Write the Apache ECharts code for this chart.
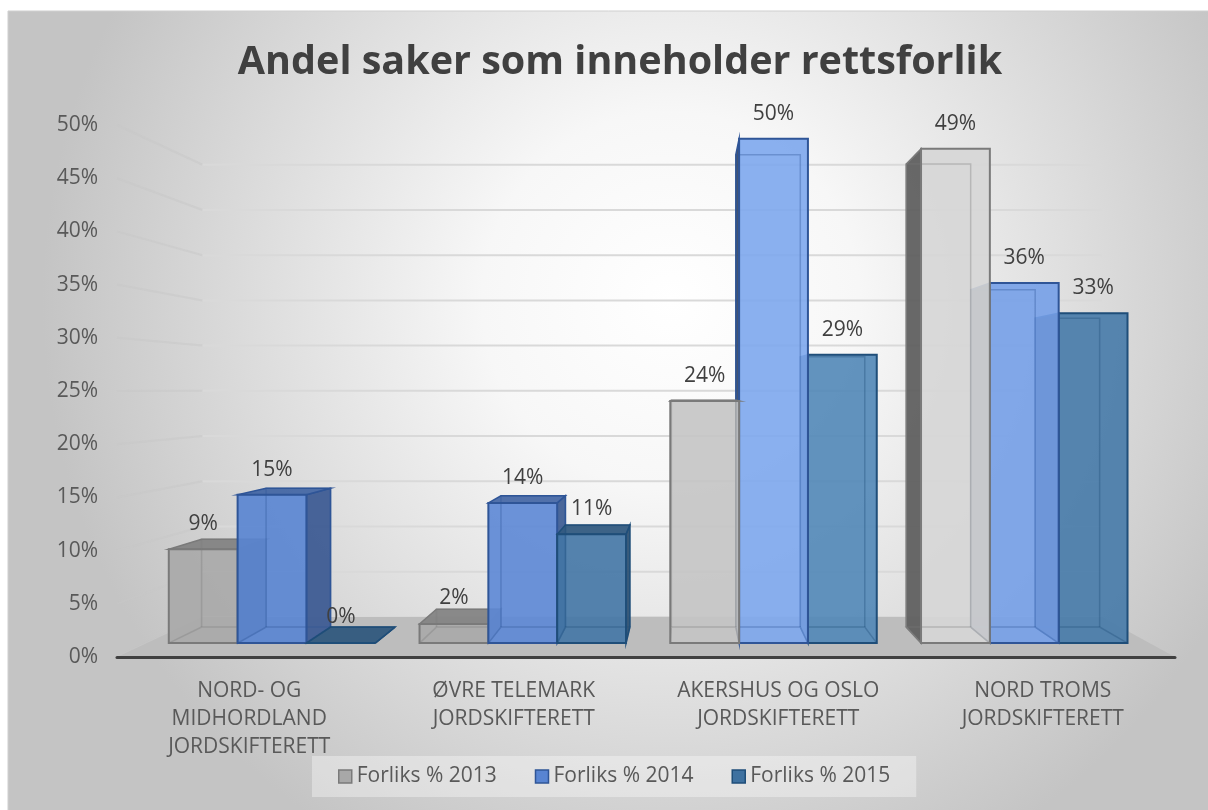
<!DOCTYPE html>
<html>
<head>
<meta charset="utf-8">
<script src="https://cdn.jsdelivr.net/npm/echarts@6/dist/echarts.min.js"></script>
<style>html,body{margin:0;padding:0;background:#fff;}</style>
</head>
<body>
<div id="main" style="width:1208px;height:810px;"></div>
<script type="text/javascript">
// data
var categories = ['NORD- OG\nMIDHORDLAND\nJORDSKIFTERETT', 'ØVRE TELEMARK\nJORDSKIFTERETT', 'AKERSHUS OG OSLO\nJORDSKIFTERETT', 'NORD TROMS\nJORDSKIFTERETT'];
var seriesNames = ['Forliks % 2013', 'Forliks % 2014', 'Forliks % 2015'];
var forlik2013 = [0.093, 0.019, 0.24, 0.49];
var forlik2014 = [0.147, 0.139, 0.50, 0.357];
var forlik2015 = [0, 0.108, 0.286, 0.327];
var yTicks = [0, 0.05, 0.10, 0.15, 0.20, 0.25, 0.30, 0.35, 0.40, 0.45, 0.50];

// look
var faceRGB = [[168, 168, 168], [88, 132, 210], [62, 113, 160]];
var lightRGB = [[235, 235, 235], [150, 190, 255], [95, 150, 200]];
var lightAmp = [0.78, 0.75, 0.6];
var outline = ['#7a7a7a', '#2f5597', '#1f4e79'];
var FONT = '"Open Sans", "DejaVu Sans", sans-serif';

// fake 3d: vanishing point (share of grid), depth scales
var VP_X = 0.539, VP_Y = 0.498;
var S_FRONT = 0.948, S_BACK = 0.888, S_WALL = 0.85;
var BAR_RATIO = 0.2745;

function mix(c, t, a) {
    return [0, 1, 2].map(function (i) { return Math.round(c[i] + (t[i] - c[i]) * a); });
}
function rgb(c, op) {
    return 'rgba(' + c[0] + ',' + c[1] + ',' + c[2] + ',' + (op == null ? 1 : op) + ')';
}
function vpOf(rect) {
    return [rect.x + rect.width * VP_X, rect.y + rect.height * VP_Y];
}
function proj(vp, x, y, s) {
    return [vp[0] + (x - vp[0]) * s, vp[1] + (y - vp[1]) * s];
}

function wallRender(params, api) {
    var rect = params.coordSys;
    var vp = vpOf(rect);
    var y = api.coord([0, api.value(1)])[1];
    var a = [rect.x, y];
    var b = proj(vp, rect.x, y, S_WALL);
    var c = proj(vp, rect.x + rect.width, y, S_WALL);
    return {
        type: 'group',
        children: [
            { type: 'line', shape: { x1: a[0], y1: a[1], x2: b[0], y2: b[1] }, style: { fill: 'none', stroke: 'rgba(200,200,200,0.5)', lineWidth: 2 } },
            { type: 'line', shape: { x1: b[0], y1: b[1], x2: c[0], y2: c[1] }, style: { fill: 'none', stroke: '#d9d9d9', lineWidth: 2 } }
        ]
    };
}

function floorRender(params, api) {
    var rect = params.coordSys;
    var vp = vpOf(rect);
    var y0 = rect.y + rect.height;
    var l = rect.x, r = rect.x + rect.width;
    return {
        type: 'polygon',
        z2: 5,
        shape: { points: [[l, y0], [r, y0], proj(vp, r, y0, S_WALL), proj(vp, l, y0, S_WALL)] },
        style: { fill: '#bdbdbd' }
    };
}

function makeBarRender(k) {
    return function (params, api) {
        var rect = params.coordSys;
        var vp = vpOf(rect);
        var cat = api.value(0), v = api.value(1);
        var base = api.coord([cat, 0]);
        var top = api.coord([cat, v]);
        var bw = api.size([1, 0])[0] * BAR_RATIO;
        var x0 = base[0] + (k - 1.5) * bw, x1 = x0 + bw;
        var fbl = proj(vp, x0, base[1], S_FRONT), fbr = proj(vp, x1, base[1], S_FRONT);
        var ftl = proj(vp, x0, top[1], S_FRONT), ftr = proj(vp, x1, top[1], S_FRONT);
        var bbl = proj(vp, x0, base[1], S_BACK), bbr = proj(vp, x1, base[1], S_BACK);
        var btl = proj(vp, x0, top[1], S_BACK), btr = proj(vp, x1, top[1], S_BACK);

        var cx = (fbl[0] + fbr[0]) / 2;
        // spot light from upper right
        var light = lightAmp[k] * Math.exp(-Math.pow((cx - (rect.x + rect.width * 0.72)) / (rect.width * 0.21), 2));
        var face = mix(faceRGB[k], lightRGB[k], light);
        var leftSide = mix(face, [0, 0, 0], 0.55);
        var rightSide = mix(face, [0, 0, 0], 0.3);
        var topc = mix(face, [0, 0, 0], 0.22);
        var zb = 1000 - Math.round(Math.abs(cx - vp[0]));
        var ol = outline[k];
        var kids = [];

        if (fbl[0] > bbl[0]) {
            kids.push({ type: 'polygon', z2: zb, shape: { points: [fbl, ftl, btl, bbl] }, style: { fill: rgb(leftSide, 0.95), stroke: ol, lineWidth: 1.5 } });
        }
        if (fbr[0] < bbr[0]) {
            kids.push({ type: 'polygon', z2: zb, shape: { points: [fbr, ftr, btr, bbr] }, style: { fill: rgb(rightSide, 0.95), stroke: ol, lineWidth: 1.5 } });
        }
        if (btl[1] < ftl[1]) {
            kids.push({ type: 'polygon', z2: zb, shape: { points: [ftl, ftr, btr, btl] }, style: { fill: rgb(topc, 0.95), stroke: ol, lineWidth: 1.5 } });
        }
        kids.push({ type: 'polygon', z2: zb + 1, shape: { points: [fbl, fbr, ftr, ftl] }, style: { fill: rgb(face, 0.9), stroke: ol, lineWidth: 2 } });
        // back edges seen through the glassy front
        var hid = { fill: 'none', stroke: ol, lineWidth: 1.5, opacity: 0.35 };
        kids.push({ type: 'polyline', z2: zb + 2, shape: { points: [fbl, bbl, bbr, fbr] }, style: hid });
        kids.push({ type: 'polyline', z2: zb + 2, shape: { points: [bbl, btl, btr, bbr] }, style: hid });

        var ty = (ftl[1] + btl[1]) / 2;
        kids.push({
            type: 'text', z2: 5000,
            style: {
                text: Math.round(v * 100) + '%',
                x: cx, y: ty - 17 - 0.03 * (base[1] - ty),
                align: 'center', verticalAlign: 'middle',
                font: '21px ' + FONT, fill: '#404040'
            }
        });
        return { type: 'group', children: kids };
    };
}

var barData = [forlik2013, forlik2014, forlik2015];
var barSeries = barData.map(function (vals, k) {
    return {
        name: seriesNames[k],
        type: 'custom',
        clip: false,
        z: 3,
        itemStyle: { color: rgb(faceRGB[k]) },
        encode: { x: 0, y: 1 },
        renderItem: makeBarRender(k),
        data: vals.map(function (v, i) { return [i, v]; })
    };
});

var myChart = echarts.init(document.getElementById('main'));
var option = {
    backgroundColor: '#ffffff',
    animation: false,
    graphic: [{
        type: 'rect', z: -10, silent: true,
        shape: { x: 8, y: 11, width: 1205, height: 805 },
        style: {
            fill: new echarts.graphic.RadialGradient(0.55, 0.36, 0.78, [
                { offset: 0, color: '#ffffff' },
                { offset: 0.3, color: '#f7f7f7' },
                { offset: 1, color: '#c4c4c4' }
            ]),
            stroke: '#cfcfcf', lineWidth: 1
        }
    }],
    title: {
        text: 'Andel saker som inneholder rettsforlik',
        left: 615, top: 38, textAlign: 'center',
        textStyle: { fontFamily: FONT, fontWeight: 'bold', fontSize: 39.5, color: '#404040' }
    },
    legend: {
        top: 756, left: 312,
        padding: [10, 26, 10, 26],
        backgroundColor: 'rgba(255,255,255,0.35)',
        icon: 'rect', itemWidth: 13, itemHeight: 13, itemGap: 38,
        textStyle: { fontFamily: FONT, fontSize: 21, color: '#595959' },
        data: seriesNames.map(function (n, k) {
            return { name: n, itemStyle: { color: rgb(faceRGB[k]), borderColor: outline[k], borderWidth: 1.5 } };
        })
    },
    grid: { left: 117, right: 33, top: 125, bottom: 153 },
    xAxis: {
        type: 'category',
        data: categories,
        z: 10,
        axisLine: { lineStyle: { color: '#404040', width: 3 } },
        axisTick: { show: false },
        axisLabel: { margin: 20, fontFamily: FONT, fontSize: 21, lineHeight: 28, color: '#595959' }
    },
    yAxis: {
        type: 'value', min: 0, max: 0.5, interval: 0.05,
        axisLine: { show: false }, axisTick: { show: false }, splitLine: { show: false },
        axisLabel: {
            margin: 19, fontFamily: FONT, fontSize: 21, color: '#595959',
            formatter: function (v) { return Math.round(v * 100) + '%'; }
        }
    },
    series: [{
        type: 'custom', z: 1, silent: true, clip: false,
        encode: { x: 0, y: 1 },
        renderItem: wallRender,
        data: yTicks.map(function (v) { return [0, v]; })
    }, {
        type: 'custom', z: 1, silent: true, clip: false,
        encode: { x: 0, y: 1 },
        renderItem: floorRender,
        data: [[0, 0]]
    }].concat(barSeries)
};
myChart.setOption(option);
</script>
</body>
</html>
